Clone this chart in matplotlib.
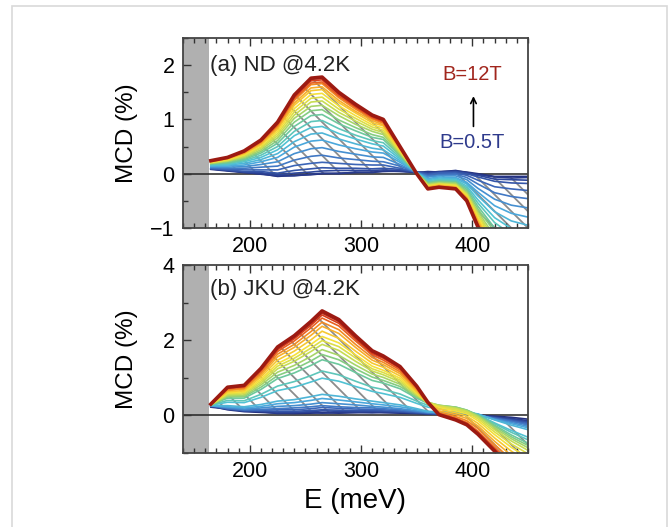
import matplotlib
matplotlib.use("Agg")
import matplotlib.pyplot as plt
import numpy as np
from matplotlib.colors import LinearSegmentedColormap
from matplotlib.patches import Rectangle
from matplotlib.ticker import MultipleLocator

plt.rcParams['font.family'] = ['Liberation Sans', 'DejaVu Sans']
plt.rcParams['hatch.linewidth'] = 1.3

# magnetic fields (T)
fields = [0.5, 1.0, 1.5, 2.0, 2.5, 3.0, 3.5, 4.0, 4.5, 5.0, 5.5, 6.0,
          6.5, 7.0, 7.5, 8.0, 8.5, 9.0, 9.5, 10.0, 10.5, 11.0, 11.5, 12.0]

# photon energy (meV)
energy = [165, 180, 195, 210, 225, 240, 255, 265, 280, 295, 310, 320,
          335, 350, 360, 370, 385, 395, 405, 420, 435, 450]

# (a) ND @4.2K, MCD (%), one row per field
mcd_nd = [
    [0.08, 0.05, 0.02, 0.00, -0.05, -0.03, -0.02, 0.00, 0.01, 0.02, 0.03, 0.04, 0.05, 0.03, 0.02, 0.04, 0.05, 0.03, 0.00, -0.05, -0.05, -0.05],
    [0.10, 0.06, 0.03, -0.01, -0.04, -0.04, -0.01, 0.01, 0.00, 0.03, 0.02, 0.05, 0.04, 0.02, 0.04, 0.03, 0.06, 0.02, -0.02, -0.06, -0.08, -0.07],
    [0.09, 0.06, 0.03, 0.02, -0.02, 0.01, 0.03, 0.05, 0.06, 0.06, 0.06, 0.07, 0.06, 0.03, 0.01, 0.03, 0.04, 0.01, -0.03, -0.10, -0.11, -0.12],
    [0.09, 0.07, 0.04, 0.04, 0.01, 0.06, 0.09, 0.11, 0.10, 0.10, 0.09, 0.10, 0.08, 0.03, 0.00, 0.02, 0.03, 0.00, -0.06, -0.14, -0.17, -0.18],
    [0.10, 0.08, 0.07, 0.07, 0.07, 0.15, 0.19, 0.21, 0.19, 0.17, 0.16, 0.16, 0.10, 0.03, -0.02, 0.01, 0.01, -0.03, -0.12, -0.24, -0.28, -0.31],
    [0.11, 0.10, 0.10, 0.12, 0.14, 0.25, 0.32, 0.34, 0.29, 0.26, 0.23, 0.22, 0.14, 0.02, -0.04, -0.02, -0.01, -0.07, -0.19, -0.35, -0.42, -0.46],
    [0.12, 0.12, 0.13, 0.17, 0.22, 0.37, 0.46, 0.48, 0.41, 0.36, 0.31, 0.30, 0.17, 0.02, -0.06, -0.04, -0.04, -0.11, -0.27, -0.47, -0.58, -0.63],
    [0.14, 0.14, 0.16, 0.22, 0.30, 0.49, 0.60, 0.62, 0.53, 0.46, 0.40, 0.38, 0.21, 0.02, -0.09, -0.06, -0.07, -0.16, -0.34, -0.59, -0.73, -0.80],
    [0.15, 0.16, 0.19, 0.26, 0.37, 0.59, 0.73, 0.75, 0.64, 0.55, 0.47, 0.44, 0.24, 0.02, -0.11, -0.08, -0.09, -0.19, -0.41, -0.70, -0.87, -0.95],
    [0.16, 0.17, 0.22, 0.30, 0.44, 0.70, 0.85, 0.87, 0.74, 0.64, 0.55, 0.51, 0.27, 0.02, -0.13, -0.10, -0.11, -0.23, -0.48, -0.81, -1.01, -1.10],
    [0.17, 0.19, 0.24, 0.34, 0.50, 0.78, 0.96, 0.98, 0.83, 0.71, 0.61, 0.57, 0.30, 0.01, -0.15, -0.12, -0.13, -0.26, -0.54, -0.90, -1.12, -1.23],
    [0.18, 0.20, 0.26, 0.38, 0.56, 0.87, 1.07, 1.09, 0.92, 0.79, 0.67, 0.63, 0.33, 0.01, -0.16, -0.14, -0.15, -0.29, -0.60, -1.00, -1.24, -1.36],
    [0.19, 0.22, 0.28, 0.41, 0.61, 0.95, 1.16, 1.18, 0.99, 0.85, 0.72, 0.67, 0.35, 0.01, -0.18, -0.15, -0.17, -0.32, -0.65, -1.07, -1.34, -1.47],
    [0.19, 0.23, 0.30, 0.44, 0.66, 1.02, 1.24, 1.26, 1.07, 0.91, 0.78, 0.72, 0.37, 0.01, -0.19, -0.17, -0.18, -0.35, -0.70, -1.15, -1.44, -1.58],
    [0.20, 0.24, 0.32, 0.47, 0.70, 1.08, 1.32, 1.34, 1.13, 0.97, 0.82, 0.76, 0.39, 0.01, -0.21, -0.18, -0.20, -0.37, -0.74, -1.21, -1.51, -1.66],
    [0.21, 0.25, 0.34, 0.49, 0.74, 1.14, 1.39, 1.41, 1.19, 1.02, 0.86, 0.80, 0.41, 0.01, -0.22, -0.19, -0.21, -0.39, -0.77, -1.28, -1.59, -1.75],
    [0.21, 0.26, 0.35, 0.52, 0.78, 1.20, 1.46, 1.48, 1.25, 1.07, 0.90, 0.84, 0.42, 0.01, -0.23, -0.20, -0.22, -0.41, -0.81, -1.34, -1.67, -1.84],
    [0.22, 0.27, 0.37, 0.54, 0.82, 1.26, 1.53, 1.55, 1.31, 1.12, 0.94, 0.88, 0.44, 0.00, -0.24, -0.21, -0.24, -0.43, -0.85, -1.40, -1.75, -1.92],
    [0.22, 0.28, 0.38, 0.56, 0.85, 1.30, 1.58, 1.60, 1.35, 1.15, 0.98, 0.90, 0.46, 0.00, -0.25, -0.22, -0.25, -0.45, -0.88, -1.45, -1.81, -1.99],
    [0.23, 0.28, 0.39, 0.58, 0.88, 1.35, 1.64, 1.66, 1.40, 1.19, 1.01, 0.93, 0.47, 0.00, -0.26, -0.23, -0.26, -0.46, -0.91, -1.49, -1.86, -2.05],
    [0.23, 0.29, 0.40, 0.59, 0.90, 1.38, 1.67, 1.69, 1.43, 1.22, 1.03, 0.95, 0.48, 0.00, -0.27, -0.24, -0.26, -0.47, -0.93, -1.52, -1.90, -2.09],
    [0.24, 0.29, 0.41, 0.60, 0.92, 1.41, 1.71, 1.73, 1.46, 1.24, 1.05, 0.97, 0.49, 0.00, -0.27, -0.24, -0.27, -0.48, -0.95, -1.55, -1.94, -2.14],
    [0.24, 0.30, 0.41, 0.61, 0.94, 1.43, 1.74, 1.76, 1.48, 1.26, 1.06, 0.99, 0.49, 0.00, -0.28, -0.25, -0.28, -0.49, -0.97, -1.58, -1.97, -2.17],
    [0.24, 0.30, 0.42, 0.62, 0.95, 1.45, 1.76, 1.78, 1.50, 1.28, 1.08, 1.00, 0.50, 0.00, -0.28, -0.25, -0.28, -0.50, -0.98, -1.60, -2.00, -2.20],
]

# (b) JKU @4.2K, MCD (%), one row per field
mcd_jku = [
    [0.25, 0.15, 0.10, 0.08, 0.06, 0.05, 0.06, 0.07, 0.06, 0.07, 0.08, 0.07, 0.06, 0.05, 0.04, 0.03, 0.03, 0.02, 0.00, -0.02, -0.05, -0.10],
    [0.22, 0.17, 0.12, 0.10, 0.05, 0.07, 0.08, 0.06, 0.08, 0.09, 0.07, 0.09, 0.08, 0.06, 0.05, 0.04, 0.05, 0.03, 0.01, -0.04, -0.08, -0.14],
    [0.27, 0.18, 0.13, 0.11, 0.09, 0.08, 0.10, 0.12, 0.11, 0.10, 0.11, 0.10, 0.09, 0.07, 0.05, 0.05, 0.04, 0.02, 0.00, -0.05, -0.10, -0.17],
    [0.25, 0.17, 0.12, 0.12, 0.11, 0.11, 0.13, 0.15, 0.14, 0.13, 0.13, 0.12, 0.10, 0.07, 0.05, 0.04, 0.03, 0.02, -0.01, -0.06, -0.12, -0.19],
    [0.26, 0.18, 0.14, 0.14, 0.15, 0.15, 0.18, 0.21, 0.19, 0.17, 0.16, 0.15, 0.12, 0.09, 0.06, 0.05, 0.04, 0.03, 0.00, -0.07, -0.14, -0.22],
    [0.26, 0.19, 0.15, 0.16, 0.18, 0.20, 0.23, 0.26, 0.23, 0.21, 0.20, 0.18, 0.15, 0.10, 0.07, 0.06, 0.05, 0.04, 0.01, -0.08, -0.16, -0.25],
    [0.26, 0.21, 0.17, 0.20, 0.24, 0.26, 0.30, 0.34, 0.31, 0.28, 0.24, 0.22, 0.18, 0.12, 0.08, 0.07, 0.06, 0.05, 0.02, -0.10, -0.19, -0.29],
    [0.26, 0.23, 0.20, 0.24, 0.31, 0.34, 0.40, 0.45, 0.41, 0.36, 0.31, 0.28, 0.23, 0.15, 0.09, 0.08, 0.08, 0.06, 0.03, -0.11, -0.22, -0.33],
    [0.26, 0.26, 0.23, 0.29, 0.38, 0.42, 0.50, 0.56, 0.51, 0.44, 0.38, 0.34, 0.28, 0.18, 0.11, 0.09, 0.09, 0.08, 0.04, -0.12, -0.26, -0.38],
    [0.27, 0.35, 0.34, 0.48, 0.66, 0.75, 0.89, 0.99, 0.91, 0.77, 0.64, 0.58, 0.48, 0.32, 0.22, 0.18, 0.15, 0.10, 0.02, -0.20, -0.40, -0.58],
    [0.27, 0.40, 0.39, 0.56, 0.78, 0.90, 1.06, 1.18, 1.08, 0.91, 0.75, 0.69, 0.57, 0.38, 0.27, 0.22, 0.18, 0.12, 0.02, -0.22, -0.45, -0.65],
    [0.28, 0.46, 0.46, 0.69, 0.98, 1.13, 1.33, 1.48, 1.36, 1.14, 0.93, 0.86, 0.71, 0.46, 0.32, 0.26, 0.22, 0.14, 0.01, -0.26, -0.52, -0.74],
    [0.28, 0.49, 0.50, 0.75, 1.06, 1.23, 1.45, 1.62, 1.48, 1.24, 1.02, 0.93, 0.77, 0.49, 0.34, 0.27, 0.22, 0.14, 0.00, -0.29, -0.57, -0.80],
    [0.28, 0.52, 0.53, 0.81, 1.15, 1.33, 1.57, 1.75, 1.60, 1.34, 1.10, 1.01, 0.83, 0.52, 0.35, 0.27, 0.21, 0.13, -0.02, -0.33, -0.62, -0.86],
    [0.28, 0.55, 0.57, 0.86, 1.24, 1.44, 1.70, 1.89, 1.73, 1.44, 1.18, 1.08, 0.89, 0.55, 0.35, 0.26, 0.19, 0.11, -0.05, -0.38, -0.68, -0.93],
    [0.29, 0.58, 0.60, 0.91, 1.31, 1.52, 1.79, 1.99, 1.83, 1.53, 1.24, 1.14, 0.94, 0.57, 0.34, 0.24, 0.16, 0.08, -0.09, -0.44, -0.76, -1.02],
    [0.29, 0.60, 0.63, 0.96, 1.38, 1.60, 1.89, 2.10, 1.93, 1.61, 1.31, 1.20, 0.99, 0.60, 0.33, 0.21, 0.12, 0.04, -0.14, -0.51, -0.85, -1.12],
    [0.29, 0.63, 0.66, 1.02, 1.47, 1.71, 2.01, 2.24, 2.05, 1.71, 1.39, 1.28, 1.05, 0.63, 0.32, 0.17, 0.07, -0.02, -0.21, -0.60, -0.95, -1.25],
    [0.29, 0.66, 0.70, 1.07, 1.56, 1.81, 2.13, 2.37, 2.18, 1.81, 1.47, 1.35, 1.11, 0.67, 0.31, 0.12, 0.02, -0.08, -0.28, -0.69, -1.06, -1.38],
    [0.30, 0.68, 0.72, 1.12, 1.63, 1.89, 2.23, 2.48, 2.28, 1.89, 1.54, 1.41, 1.16, 0.70, 0.32, 0.08, -0.03, -0.14, -0.35, -0.78, -1.17, -1.50],
    [0.30, 0.71, 0.75, 1.17, 1.70, 1.98, 2.33, 2.59, 2.38, 1.98, 1.61, 1.47, 1.21, 0.73, 0.33, 0.05, -0.07, -0.19, -0.42, -0.85, -1.28, -1.62],
    [0.30, 0.73, 0.77, 1.21, 1.75, 2.04, 2.40, 2.67, 2.45, 2.04, 1.65, 1.52, 1.25, 0.75, 0.34, 0.03, -0.10, -0.22, -0.46, -0.90, -1.34, -1.70],
    [0.30, 0.74, 0.79, 1.23, 1.79, 2.08, 2.45, 2.72, 2.50, 2.08, 1.69, 1.55, 1.28, 0.77, 0.35, 0.02, -0.11, -0.24, -0.48, -0.93, -1.37, -1.75],
    [0.30, 0.75, 0.80, 1.25, 1.82, 2.12, 2.50, 2.78, 2.55, 2.12, 1.72, 1.58, 1.30, 0.78, 0.35, 0.02, -0.12, -0.25, -0.50, -0.95, -1.40, -1.80],
]

cmap = LinearSegmentedColormap.from_list(
    'mcd', ['#24307f', '#2f4a9e', '#3f6fc0', '#4aa6dc', '#52c4d2',
            '#74c98f', '#c3dc55', '#f6e03a', '#f7a527', '#e2431c', '#9c1a12'])

fig = plt.figure(figsize=(6.72, 5.27), dpi=100)

# light page frame around the figure
fig.patches.append(Rectangle((12 / 672, -0.02), 655 / 672, 1.02 - 6 / 527,
                             transform=fig.transFigure, fill=False,
                             edgecolor='#d9d9d9', linewidth=1.2))

ax_a = fig.add_axes([0.2723, 0.5674, 0.5134, 0.3605])
ax_b = fig.add_axes([0.2723, 0.1404, 0.5134, 0.3567])

panels = [
    (ax_a, np.array(mcd_nd), (-1, 2.5), 1, 0.5, '(a) ND @4.2K', 2.0),
    (ax_b, np.array(mcd_jku), (-1, 4), 2, 1, '(b) JKU @4.2K', 3.35),
]

E = np.array(energy)
for ax, data, ylim, major, minor, title, ty in panels:
    ax.axvspan(140, 163, color='#b0b0b0', zorder=0, lw=0)
    # grey hatching between the lowest and highest field curves
    lo, hi = data.min(axis=0), data.max(axis=0)
    ax.fill(np.concatenate([E, E[::-1]]), np.concatenate([lo, hi[::-1]]),
            facecolor='none', edgecolor='#8c8c8c', hatch='\\\\',
            linewidth=0.0, zorder=1)
    ax.axhline(0, color='#222222', lw=1.1, zorder=1.5)
    n = len(fields)
    for i, row in enumerate(data):
        lw = 2.6 if i == n - 1 else 1.2
        ax.plot(energy, row, color=cmap(i / (n - 1)), lw=lw, zorder=2 + i * 0.01)
    ax.set_xlim(140, 450)
    ax.set_ylim(*ylim)
    ax.xaxis.set_major_locator(MultipleLocator(100))
    ax.xaxis.set_minor_locator(MultipleLocator(10))
    ax.yaxis.set_major_locator(MultipleLocator(major))
    ax.yaxis.set_minor_locator(MultipleLocator(minor))
    ax.tick_params(which='both', direction='in', top=True, right=False,
                   labelsize=15.5, color='#333333', pad=6)
    ax.tick_params(which='major', length=6, width=1)
    ax.tick_params(which='minor', length=3.5, width=1)
    for s in ax.spines.values():
        s.set_color('#444444')
        s.set_linewidth(1.3)
    ax.set_ylabel('MCD (%)', fontsize=17.5)
    ax.yaxis.set_label_coords(-0.13, 0.5)
    ax.text(164, ty, title, fontsize=16, color='#222222', va='center')

ax_a.text(400, 1.83, 'B=12T', color='#a1261d', fontsize=14.5, ha='center', va='center')
ax_a.text(400, 0.58, 'B=0.5T', color='#2e3a8c', fontsize=14.5, ha='center', va='center')
ax_a.annotate('', xy=(401, 1.48), xytext=(401, 0.82),
              arrowprops=dict(arrowstyle='->', color='black', lw=1.2))

ax_b.set_xlabel('E (meV)', fontsize=20, labelpad=4)

fig.savefig('out.png', dpi=100)
